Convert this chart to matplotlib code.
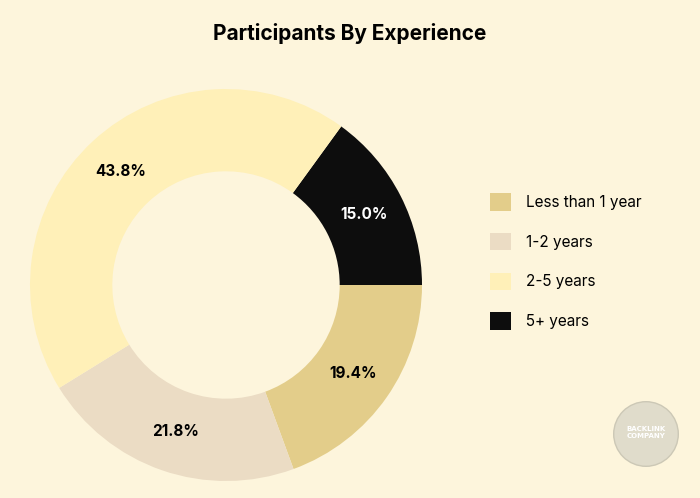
import matplotlib.pyplot as plt
from matplotlib.patches import Patch, Circle

# data in drawing order (clockwise from the top-right)
labels = ['5+ years', 'Less than 1 year', '1-2 years', '2-5 years']
values = [15.0, 19.4, 21.8, 43.8]
colors = ['#0d0d0d', '#e3cd8a', '#ebdcc4', '#fff0b8']
text_colors = ['white', 'black', 'black', 'black']
legend_order = ['Less than 1 year', '1-2 years', '2-5 years', '5+ years']

bg = '#fdf5dc'
fig = plt.figure(figsize=(7, 4.98), dpi=100, facecolor=bg)
ax = fig.add_axes([30 / 700, 17 / 498, 392 / 700, 392 / 498])
ax.set_facecolor(bg)

wedges, texts, autotexts = ax.pie(
    values, colors=colors, startangle=54, counterclock=False,
    autopct='%.1f%%', pctdistance=0.79,
    wedgeprops=dict(width=0.42, edgecolor='none'),
    textprops=dict(fontsize=11, fontweight='bold', family='Inter'))
for t, c in zip(autotexts, text_colors):
    t.set_color(c)
ax.set_xlim(-1, 1)
ax.set_ylim(-1, 1)
ax.set_aspect('equal')

fig.text(0.5, 1 - 33 / 498, 'Participants By Experience', ha='center', va='center',
         fontsize=15, fontweight='bold', family='Inter')

handles = [Patch(facecolor=colors[labels.index(l)], label=l) for l in legend_order]
fig.legend(handles=handles, loc='center left', bbox_to_anchor=(0.68, 0.475),
           frameon=False, handlelength=1.4, handleheight=1.4,
           labelspacing=1.45, handletextpad=1.0,
           prop=dict(family='Inter', size=11))

# faint watermark
wax = fig.add_axes([612 / 700, 30 / 498, 68 / 700, 68 / 498])
wax.set_xlim(-1, 1); wax.set_ylim(-1, 1); wax.set_aspect('equal'); wax.axis('off')
wax.add_patch(Circle((0, 0), 0.95, facecolor='#e0dccb', edgecolor='#ccc8b6', lw=1))
wax.text(0, 0.05, 'BACKLINK\nCOMPANY', ha='center', va='center', fontsize=5,
         color='white', fontweight='bold')

fig.savefig('out.png', facecolor=bg)
